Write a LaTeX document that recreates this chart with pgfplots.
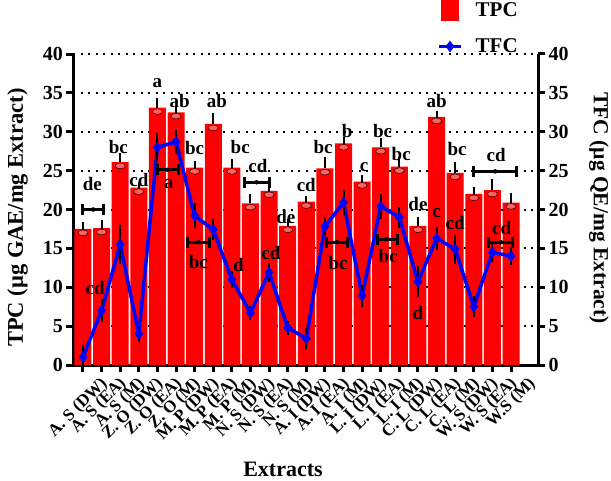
\documentclass[border=0pt]{standalone}
\usepackage{fontspec}
\setmainfont{Liberation Serif}
\usepackage{pgfplots}
\usepackage{pgfplotstable}
\pgfplotsset{compat=1.18}

\pgfplotstableread{
x tpc tpcerr tfc tfcerr
0 17.5 0.3 1.0 1.0
1 17.6 0.5 7.0 0.9
2 26.1 0.6 15.5 1.9
3 22.8 0.2 4.0 0.3
4 33.1 0.7 28.0 1.2
5 32.5 0.2 28.7 1.0
6 25.4 0.3 19.2 1.0
7 31.0 0.8 17.4 0.8
8 25.4 0.5 11.0 0.5
9 20.8 0.6 6.7 0.3
10 22.4 0.3 11.9 0.6
11 17.9 0.3 4.8 0.3
12 21.0 0.2 3.4 0.8
13 25.3 0.9 17.8 0.6
14 28.5 0.2 20.9 1.0
15 23.6 0.2 8.9 0.8
16 28.0 0.6 20.4 1.0
17 25.5 0.7 19.0 0.8
18 17.9 0.5 10.7 1.4
19 31.9 0.2 16.3 0.9
20 24.7 0.8 14.9 1.3
21 22.0 0.3 7.5 0.8
22 22.5 0.8 14.5 0.7
23 20.9 0.6 14.0 0.6
}\datatable

\pgfplotsset{
  common/.style={
    width=464.5pt, height=311pt, scale only axis,
    xmin=-0.51, xmax=24.45, ymin=0, ymax=40,
    ytick={0,5,...,40},
    axis line style={line width=3pt, black},
    tick align=outside, major tick length=7pt,
    tick style={line width=3pt, black},
    /pgf/number format/assume math mode=true,
    yticklabel style={font=\bfseries\fontsize{20}{22}\selectfont},
  },
}

\begin{document}
\begin{tikzpicture}
\begin{axis}[common,
  axis x line*=bottom, axis y line*=left,
  xtick={0,...,23},
  xticklabels={A. S (DW), A. S (EA), A. S (M), Z. O (DW), Z. O (EA), Z. O (M), M. P (DW), M. P (EA), M. P (M), N. S (DW), N. S (EA), N. S (M), A. I (DW), A. I (EA), A. I (M), L. I (DW), L. I (EA), L. I (M), C. L (DW), C. L (EA), C. L (M), W. S (DW), W. S (EA), W.S (M)},
  xticklabel style={font=\bfseries\fontsize{17}{18}\selectfont, rotate=45, anchor=east, inner sep=0pt, xshift=9pt, yshift=-22pt},
  ymajorgrids,
  grid style={black, line width=2pt, dash pattern=on 2pt off 5.5pt},
  xlabel={Extracts},
  ylabel={TPC (µg GAE/mg Extract)},
  every axis x label/.style={at={(rel axis cs:0.451,0)}, yshift=-104pt, anchor=center, inner sep=0pt, font=\bfseries\fontsize{22}{24}\selectfont},
  every axis y label/.style={at={(rel axis cs:0,0.474)}, xshift=-56pt, rotate=90, anchor=center, inner sep=0pt, font=\bfseries\fontsize{22.5}{24}\selectfont},
]
\addplot[ybar, bar width=17pt, fill=red, draw=none,
  error bars/.cd, y dir=plus, y explicit,
  error bar style={black, line width=2pt},
  error mark options={black, line width=2pt, mark size=4.5pt}]
  table[x=x, y=tpc, y error=tpcerr]{\datatable};
\addplot[only marks, mark=*, mark size=2.8pt, mark options={draw=none, fill=red!62!white, xscale=1.8}]
  table[x=x, y expr=\thisrow{tpc}-0.5]{\datatable};
\end{axis}

\begin{axis}[common,
  axis y line*=right, axis x line=none,
  ylabel={TFC (µg QE/mg Extract)},
  every axis y label/.style={at={(rel axis cs:1,0.505)}, xshift=61pt, rotate=-90, anchor=center, inner sep=0pt, font=\bfseries\fontsize{21.5}{24}\selectfont},
  clip=false,
  legend style={at={(rel axis cs:0.7826,1.1736)}, anchor=north west, draw=none, fill=none,
    inner sep=0pt, row sep=18pt, font=\bfseries\fontsize{21}{24}\selectfont,
    nodes={inner sep=1pt}},
  legend cell align=left,
  legend image code/.code={\draw[mark repeat=2, mark phase=2, #1] plot coordinates {(0pt,0pt) (11pt,0pt) (22pt,0pt)};},
]
\addlegendimage{only marks, mark=square*, mark size=8.5pt, red, mark options={fill=red, draw=red, yscale=1.15, rounded corners=2pt}}
\addlegendentry{\hspace{12pt}TPC}
\addplot[blue, line width=3.5pt, mark=diamond*, mark size=5pt, mark options={solid, fill=blue, line width=1pt},
  error bars/.cd, y dir=both, y explicit,
  error bar style={black, line width=2pt},
  error mark options={black, line width=2pt, mark size=4.5pt}]
  table[x=x, y=tfc, y error=tfcerr]{\datatable};
\addlegendentry{\hspace{12pt}TFC}

\addplot[only marks, mark=none, forget plot,
  error bars/.cd, x dir=both, x explicit, error mark=|,
  error bar style={draw=black, line width=3pt},
  error mark options={draw=black, line width=3pt, mark size=5.5pt}]
  coordinates {
  (0.55,20.0) +- (0.55,0)
  (4.55,25.1) +- (0.57,0)
  (6.2,15.8) +- (0.6,0)
  (9.33,23.5) +- (0.67,0)
  (13.65,15.8) +- (0.55,0)
  (16.35,16.2) +- (0.55,0)
  (22.15,24.9) +- (1.17,0)
  (22.45,15.8) +- (0.65,0)
  };

\begin{scope}[every node/.style={font=\bfseries\fontsize{19}{21}\selectfont, inner sep=0pt}]
\node at (axis cs:0.5,23.3) {de};
\node at (axis cs:0.65,9.9) {cd};
\node at (axis cs:1.9,28.1) {bc};
\node at (axis cs:3.0,23.8) {cd};
\node at (axis cs:4.0,36.2) {a};
\node at (axis cs:5.2,34.0) {ab};
\node at (axis cs:4.6,23.3) {a};
\node at (axis cs:6.0,27.9) {bc};
\node at (axis cs:7.2,34.0) {ab};
\node at (axis cs:6.2,13.2) {bc};
\node at (axis cs:8.45,28.0) {bc};
\node at (axis cs:8.35,12.9) {d};
\node at (axis cs:9.4,25.6) {cd};
\node at (axis cs:10.1,14.4) {cd};
\node at (axis cs:10.9,19.0) {de};
\node at (axis cs:12.0,23.1) {cd};
\node at (axis cs:12.9,28.0) {bc};
\node at (axis cs:14.2,30.1) {b};
\node at (axis cs:13.7,13.1) {bc};
\node at (axis cs:15.1,25.4) {c};
\node at (axis cs:16.1,30.1) {bc};
\node at (axis cs:16.4,14.0) {bc};
\node at (axis cs:17.1,27.1) {bc};
\node at (axis cs:18.0,20.7) {de};
\node at (axis cs:18.0,6.7) {d};
\node at (axis cs:19.0,34.0) {ab};
\node at (axis cs:19.0,19.5) {c};
\node at (axis cs:20.1,27.8) {bc};
\node at (axis cs:20.0,18.3) {cd};
\node at (axis cs:22.2,27.0) {cd};
\node at (axis cs:22.5,17.6) {cd};
\end{scope}
\end{axis}
\pgfresetboundingbox
\path[use as bounding box] (-73.5pt,-115pt) rectangle (537.5pt,365pt);
\end{tikzpicture}
\end{document}
